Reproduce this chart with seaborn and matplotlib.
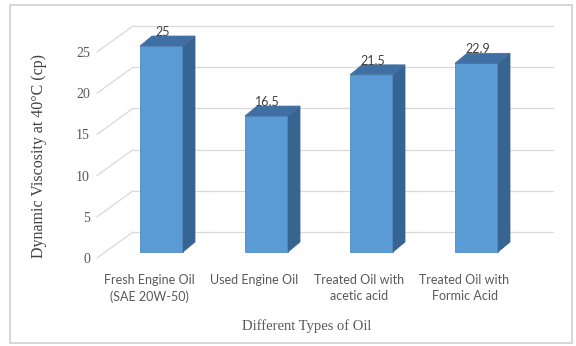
import matplotlib
matplotlib.use("Agg")
import matplotlib.pyplot as plt
from matplotlib.patches import Polygon, Rectangle
from matplotlib.lines import Line2D
from matplotlib.transforms import ScaledTranslation
import seaborn as sns

# data
oil_types = ["Fresh Engine Oil\n(SAE 20W-50)", "Used Engine Oil",
             "Treated Oil with\nacetic acid", "Treated Oil with\nFormic Acid"]
viscosity = [25, 16.5, 21.5, 22.9]
y_ticks = [0, 5, 10, 15, 20, 25]

sns.set_style("white")
plt.rcParams['font.family'] = ['Lato', 'DejaVu Sans']

W, H = 576, 346
fig = plt.figure(figsize=(W / 100, H / 100), dpi=100)
# front plane of the 3d box (pixel coords, origin top left)
ax = fig.add_axes([97 / W, (H - 258) / H, 420 / W, 206 / H])
ax.patch.set_visible(False)

front = "#5b9bd5"
side = "#386491"
top = "#3f6fa3"
grid_c = "#d9d9d9"
text_c = "#595959"

sns.barplot(x=oil_types, y=viscosity, color=front, width=0.41, saturation=1,
            edgecolor="#4f8bc4", linewidth=0.6, ax=ax, zorder=3)
ax.set_ylim(0, 25)
ax.set_xlim(-0.5, 3.5)
sns.despine(ax=ax, left=True, bottom=True)


def px(x, y):
    # display pixels -> figure fraction
    return (x / W, y / H)


# back wall grid + diagonal side lines
depth_x, depth_y = 36, 26
for t in y_ticks:
    x0, y0 = ax.transData.transform((-0.5, t))
    x1, _ = ax.transData.transform((3.5, t))
    fig.add_artist(Line2D([x0 / W, (x0 + depth_x) / W], [y0 / H, (y0 + depth_y) / H],
                          color=grid_c, lw=0.9, zorder=-1))
    fig.add_artist(Line2D([(x0 + depth_x) / W, (x1 + depth_x) / W],
                          [(y0 + depth_y) / H, (y0 + depth_y) / H],
                          color=grid_c, lw=0.9, zorder=-1))

# 3d faces of the bars
bar_dx, bar_dy = 12, 6
sd_x, sd_y = 12, 10
shift = ScaledTranslation(bar_dx / 100, bar_dy / 100, fig.dpi_scale_trans)
for p, v in zip(ax.patches, viscosity):
    bx, bw, bh = p.get_x(), p.get_width(), p.get_height()
    p.set_transform(ax.transData + shift)
    p.set_clip_on(False)
    xl, yb = ax.transData.transform((bx, 0))
    xr, yt = ax.transData.transform((bx + bw, bh))
    xl += bar_dx; xr += bar_dx; yb += bar_dy; yt += bar_dy
    side_pts = [px(xr, yb), px(xr + sd_x, yb + sd_y), px(xr + sd_x, yt + sd_y), px(xr, yt)]
    top_pts = [px(xl, yt), px(xr, yt), px(xr + sd_x, yt + sd_y), px(xl + sd_x, yt + sd_y)]
    ax.add_patch(Polygon(side_pts, closed=True, facecolor=side, edgecolor=side, lw=0.5,
                         transform=fig.transFigure, clip_on=False, zorder=3))
    ax.add_patch(Polygon(top_pts, closed=True, facecolor=top, edgecolor=top, lw=0.5,
                         transform=fig.transFigure, clip_on=False, zorder=3))
    ax.annotate(f"{v:g}", xy=(bx + bw / 2, bh), xytext=(13 * 0.72, 20 * 0.72),
                textcoords="offset points", ha="center", va="center",
                fontsize=9, color="#404040", zorder=5)

ax.set_yticks(y_ticks)
ax.set_yticklabels([str(t) for t in y_ticks], family="Liberation Serif",
                   fontsize=10, color=text_c)
for lab in ax.get_yticklabels():
    lab.set_transform(lab.get_transform() + ScaledTranslation(0, -0.05, fig.dpi_scale_trans))
ax.tick_params(axis="y", length=0, pad=5)
ax.tick_params(axis="x", length=0, pad=11.5)
for lab in ax.get_xticklabels():
    lab.set_fontsize(9)
    lab.set_color(text_c)
    lab.set_linespacing(1.4)

ax.set_ylabel("Dynamic Viscosity at 40°C (cp)", family="Liberation Serif",
              fontsize=11.5, color="#404040")
ax.yaxis.set_label_coords(-0.119, 0.495)
ax.set_xlabel("Different Types of Oil", family="Liberation Serif",
              fontsize=10.5, color=text_c, va="center")
ax.xaxis.set_label_coords(0.5, -0.33)

# outer chart border
fig.add_artist(Rectangle((10 / W, 3 / H), 562 / W, 338 / H, transform=fig.transFigure,
                         fill=False, edgecolor="#d0d0d0", lw=1.2))

fig.savefig("out.png", dpi=100)
